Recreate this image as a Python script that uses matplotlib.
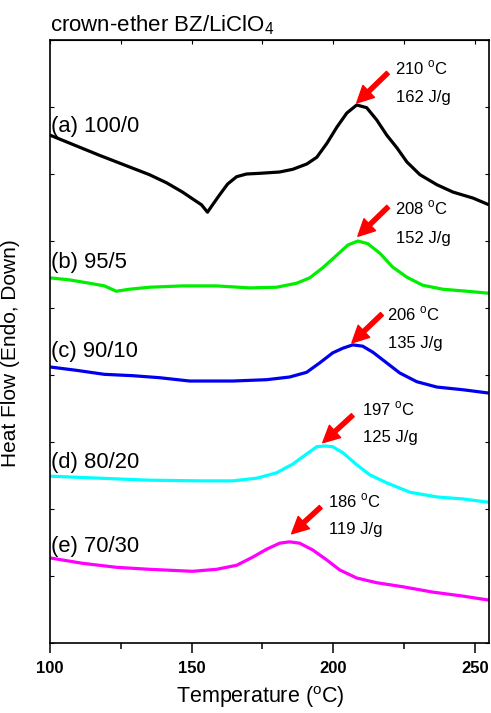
import matplotlib
matplotlib.use("Agg")
import matplotlib.pyplot as plt
from matplotlib.ticker import MultipleLocator

plt.rcParams["font.family"] = ["Liberation Sans", "DejaVu Sans"]
plt.rcParams["mathtext.fontset"] = "custom"
plt.rcParams["mathtext.rm"] = "Liberation Sans"

# DSC traces (temperature in C, heat flow in arbitrary stacked units)
temp_a = [100, 117.4, 135.1, 141.1, 146.8, 150.3, 153.5, 155.6, 157.4, 159.9, 162.7, 165.9,
          169.4, 174.0, 181.1, 185.7, 190.7, 194.2, 197.8, 201.3, 204.8, 208.3, 211.8,
          215.3, 218.9, 222.5, 226.0, 230.6, 236.6, 242.3, 249.4, 255]
flow_a = [7.58, 7.28, 6.99, 6.87, 6.73, 6.63, 6.54, 6.43, 6.54, 6.69, 6.85, 6.96,
          7.00, 7.01, 7.03, 7.07, 7.15, 7.25, 7.46, 7.70, 7.91, 8.03, 7.99,
          7.81, 7.58, 7.39, 7.18, 6.99, 6.84, 6.73, 6.64, 6.54]

temp_b = [100, 106.8, 113.9, 119.2, 123.4, 128.0, 135.1, 146.8, 158.8, 170.5, 180.0, 187.1,
          191.7, 196.3, 201.3, 205.2, 208.7, 212.2, 216.4, 221.0, 226.0, 231.6, 238.7, 247.2, 255]
flow_b = [5.45, 5.42, 5.37, 5.33, 5.25, 5.28, 5.31, 5.33, 5.33, 5.30, 5.31, 5.37,
          5.45, 5.60, 5.79, 5.94, 6.00, 5.96, 5.82, 5.61, 5.46, 5.34, 5.28, 5.25, 5.22]

temp_c = [100, 109.3, 119.2, 129.1, 138.6, 149.3, 164.5, 176.5, 184.6, 190.6, 195.2, 199.8,
          203.4, 206.9, 210.4, 214.0, 218.9, 223.5, 229.5, 236.6, 245.8, 255]
flow_c = [4.12, 4.07, 4.01, 3.99, 3.96, 3.91, 3.91, 3.93, 3.97, 4.04, 4.18, 4.33,
          4.40, 4.45, 4.43, 4.34, 4.18, 4.03, 3.90, 3.82, 3.78, 3.73]

temp_d = [100, 117.4, 135.1, 152.8, 164.5, 173.0, 180.0, 185.7, 190.6, 194.2, 197.0, 199.8,
          203.4, 208.3, 212.9, 218.9, 227.1, 236.6, 245.8, 255]
flow_d = [2.49, 2.46, 2.43, 2.42, 2.42, 2.46, 2.54, 2.67, 2.82, 2.93, 2.94, 2.93,
          2.84, 2.66, 2.51, 2.39, 2.25, 2.18, 2.15, 2.10]

temp_e = [100, 111.4, 123.4, 135.1, 150.3, 158.8, 165.9, 171.5, 176.5, 181.1, 184.6, 188.1,
          192.7, 197.7, 202.3, 208.3, 215.3, 224.5, 235.1, 245.8, 255]
flow_e = [1.27, 1.19, 1.13, 1.10, 1.07, 1.10, 1.16, 1.28, 1.40, 1.49, 1.51, 1.49,
          1.39, 1.24, 1.09, 0.97, 0.90, 0.84, 0.76, 0.70, 0.64]

labels = ["(a) 100/0", "(b) 95/5", "(c) 90/10", "(d) 80/20", "(e) 70/30"]
colors = ["black", "#00ee00", "#0000ee", "#00ffff", "#ff00ff"]
label_y = [7.63, 5.60, 4.27, 2.61, 1.36]

peak_temps = ["210", "208", "206", "197", "186"]
enthalpies = ["162", "152", "135", "125", "119"]
arrow_tip = [(208.3, 8.06), (208.7, 6.07), (206.6, 4.48), (196.3, 2.99), (185.3, 1.63)]
arrow_tail = [(219.3, 8.51), (219.4, 6.51), (217.2, 4.91), (206.9, 3.40), (195.6, 2.03)]
note_x = [221.7, 221.7, 218.9, 210.1, 198.0]
note_y1 = [8.49, 6.40, 4.81, 3.40, 2.03]
note_y2 = [8.07, 5.97, 4.40, 3.00, 1.63]

fig = plt.figure(figsize=(4.91, 7.13), dpi=100)
ax = fig.add_axes([50 / 491, 70 / 713, 439 / 491, 603 / 713])

curves = [(temp_a, flow_a), (temp_b, flow_b), (temp_c, flow_c), (temp_d, flow_d), (temp_e, flow_e)]
for (t, f), c, lab, ly in zip(curves, colors, labels, label_y):
    ax.plot(t, f, color=c, lw=2.3, solid_joinstyle="round", solid_capstyle="butt")
    ax.text(100.5, ly, lab, fontsize=15.8, va="baseline", ha="left")

for i in range(5):
    ax.annotate("", xy=arrow_tip[i], xytext=arrow_tail[i],
                arrowprops=dict(arrowstyle="simple,head_length=1.0,head_width=1.0,tail_width=0.25",
                                color="red", shrinkA=0, shrinkB=0, mutation_scale=12))
    ax.text(note_x[i], note_y1[i], peak_temps[i] + " $^\\mathregular{o}$C", fontsize=12, va="baseline")
    ax.text(note_x[i] + 0.4, note_y2[i], enthalpies[i] + " J/g", fontsize=12, va="baseline")

ax.set_xlim(100, 255)
ax.set_ylim(0, 9)
ax.xaxis.set_major_locator(MultipleLocator(50))
ax.xaxis.set_minor_locator(MultipleLocator(25))
ax.yaxis.set_major_locator(MultipleLocator(1))
ax.tick_params(axis="x", which="major", direction="out", length=7, width=1.1, pad=6)
ax.tick_params(axis="x", which="minor", direction="out", length=4, width=1.1)
ax.tick_params(axis="y", which="both", direction="in", left=True, right=True, labelleft=False, length=3, width=0.8)
for lbl in ax.get_xticklabels():
    lbl.set_fontweight("bold")
    lbl.set_fontsize(12)
for s in ax.spines.values():
    s.set_linewidth(1.2)

top = ax.secondary_xaxis("top")
top.xaxis.set_major_locator(MultipleLocator(25))
top.tick_params(axis="x", direction="in", length=3, width=0.8, labeltop=False)

ax.set_xlabel("Temperature ($^\\mathregular{o}$C)", fontsize=15.5)
ax.xaxis.set_label_coords(0.48, -0.068)
ax.set_ylabel("Heat Flow (Endo, Down)", fontsize=15)
ax.yaxis.set_label_coords(-0.068, 0.48)
ax.text(0, 1 + 9 / 603, "crown-ether BZ/LiClO$_\\mathregular{4}$", transform=ax.transAxes,
        fontsize=16, va="baseline", ha="left")

fig.savefig("out.png", dpi=100)
